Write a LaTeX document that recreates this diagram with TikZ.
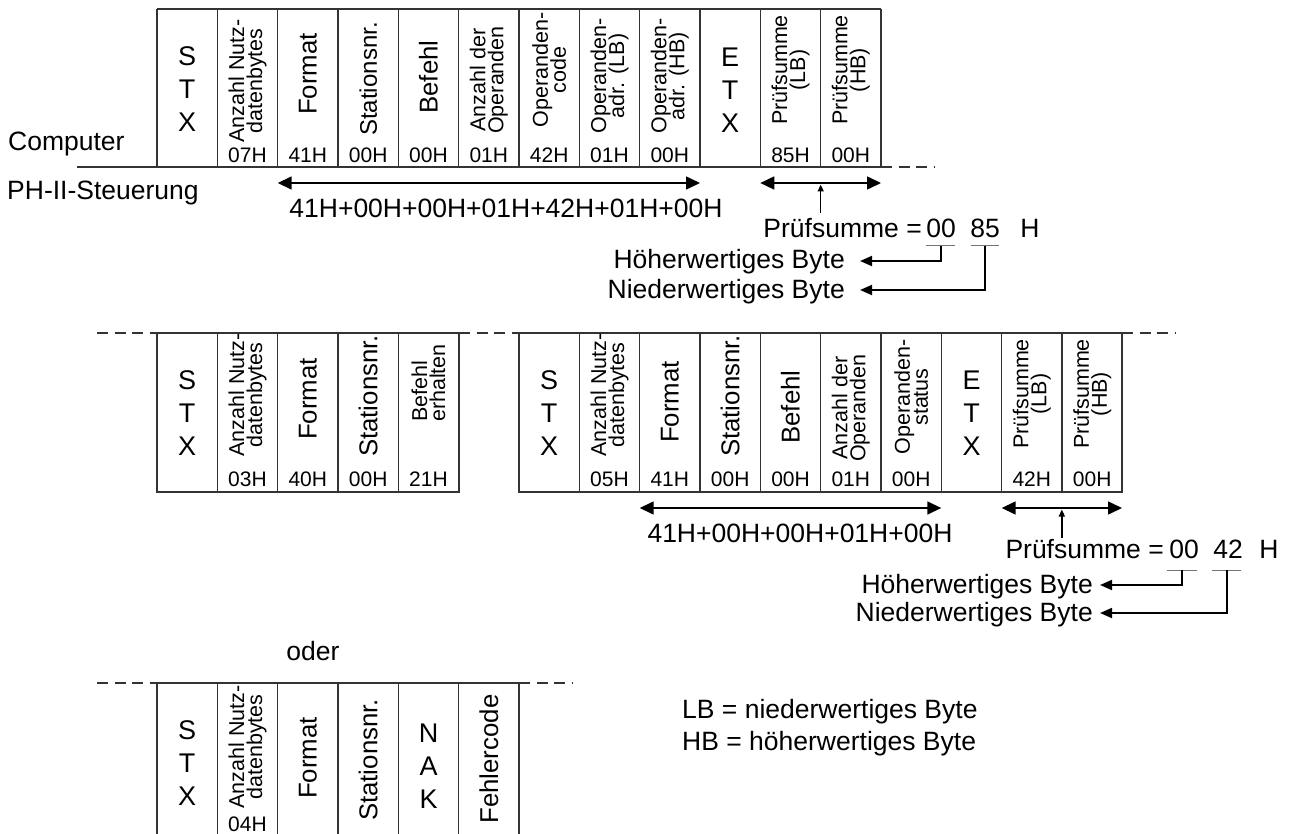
\documentclass[tikz,border=0pt]{standalone}
\usepackage{fontspec}
\setmainfont{Liberation Sans}
\usetikzlibrary{arrows.meta}
\lineskiplimit=-50pt
\begin{document}
\begin{tikzpicture}[x=1pt,y=-1pt,
  frm/.style={draw=black!80, line width=1.3pt},
  dsh/.style={draw=black!80, line width=1.3pt, dash pattern=on 11pt off 6.5pt},
  lbl/.style={inner sep=0pt, font=\fontsize{26.5}{30}\selectfont},
  rbig/.style={inner sep=0pt, rotate=90, font=\fontsize{25.8}{28}\selectfont},
  rsm/.style={inner sep=0pt, rotate=90, align=center, font=\fontsize{21.5}{18}\selectfont},
  val/.style={inner sep=0pt, font=\fontsize{21}{22}\selectfont},
  stk/.style={inner sep=0pt, align=center, font=\fontsize{27}{33}\selectfont},
  dbl/.style={line width=1.5pt, >={Triangle[length=14pt,width=13pt]}, <->},
  upa/.style={line width=1.5pt, -{Triangle[length=7pt,width=6pt]}},
  bya/.style={line width=1.8pt, -{Triangle[length=12pt,width=10pt]}},
  ul/.style={draw=black!55, line width=1pt}
]
\useasboundingbox (0,0) rectangle (1292,834);

% ---------------- frame 1 (Computer -> PH-II) ----------------
\draw[frm] (157,9) -- (881,9);
\draw[frm] (77,167) -- (881,167);
\foreach \i in {0,...,12} \draw[frm] ({157+\i*60.333},9) -- ({157+\i*60.333},167);
\draw[dsh] (881,167) -- (935,167);

\node[lbl, anchor=base west] (comp) at (8,151) {Computer};
\node[lbl, anchor=base west] (phii) at (7,200) {PH-II-Steuerung};

\node[stk] (t1c1) at (187.2,89) {S\\T\\X};
\node[rsm] (t1c2) at (247.5,81) {Anzahl Nutz-\\datenbytes};
\node[val] (t1v2) at (247.5,155) {07H};
\node[rbig] (t1c3) at (307.8,74) {Format};
\node[val] (t1v3) at (307.8,155) {41H};
\node[rbig, font=\fontsize{24}{28}\selectfont] (t1c4) at (368.2,79) {Stationsnr.};
\node[val] (t1v4) at (368.2,155) {00H};
\node[rbig] (t1c5) at (428.5,77) {Befehl};
\node[val] (t1v5) at (428.5,155) {00H};
\node[rsm] (t1c6) at (488.8,80) {Anzahl der\\Operanden};
\node[val] (t1v6) at (488.8,155) {01H};
\node[rsm] (t1c7) at (549.2,70) {Operanden-\\code};
\node[val] (t1v7) at (549.2,155) {42H};
\node[rsm] (t1c8) at (609.5,76) {Operanden-\\adr. (LB)};
\node[val] (t1v8) at (609.5,155) {01H};
\node[rsm] (t1c9) at (669.8,76) {Operanden-\\adr. (HB)};
\node[val] (t1v9) at (669.8,155) {00H};
\node[stk] (t1c10) at (730.2,90) {E\\T\\X};
\node[rsm] (t1c11) at (790.5,70) {Prüfsumme\\(LB)};
\node[val] (t1v11) at (790.5,155) {85H};
\node[rsm] (t1c12) at (850.8,70) {Prüfsumme\\(HB)};
\node[val] (t1v12) at (850.8,155) {00H};

\coordinate (a1l) at (277.7,183);
\coordinate (a1r) at (700,183);
\draw[dbl] (a1l) -- (a1r);
\node[lbl, anchor=base] (sum1) at (506,218) {41H+00H+00H+01H+42H+01H+00H};
\coordinate (b1l) at (760.3,183);
\coordinate (b1r) at (881,183);
\draw[dbl] (b1l) -- (b1r);
\coordinate (c1b) at (820.7,213);
\coordinate (c1t) at (820.7,184.5);
\draw[upa] (c1b) -- (c1t);

\node[lbl, anchor=base east] (ps1) at (922,237.5) {Prüfsumme =};
\node[lbl, anchor=base] (hi1) at (941,237.5) {00};
\node[lbl, anchor=base] (lo1) at (985,237.5) {85};
\node[lbl, anchor=base] (hh1) at (1030,237.5) {H};
\draw[ul] (926,246) -- (955,246);
\draw[ul] (971,246) -- (999,246);
\node[lbl, anchor=base east] (hw1) at (845,269) {Höherwertiges Byte};
\node[lbl, anchor=base east] (nw1) at (845,298) {Niederwertiges Byte};
\coordinate (u1a) at (941,246);
\coordinate (u1b) at (985,246);
\coordinate (e1a) at (860,261);
\coordinate (e1b) at (860,290);
\draw[bya] (u1a) |- (e1a);
\draw[bya] (u1b) |- (e1b);

% ---------------- frame 2a (PH-II -> Computer) ----------------
\draw[dsh] (97,333) -- (157,333);
\draw[frm] (157,333) rectangle (459,492);
\foreach \i in {1,...,4} \draw[frm] ({157+\i*60.333},333) -- ++(0,159);
\draw[dsh] (459,333) -- (519,333);

\node[stk] (m1c1) at (187.2,413) {S\\T\\X};
\node[rsm] (m1c2) at (247.5,395) {Anzahl Nutz-\\datenbytes};
\node[val] (m1v2) at (247.5,479) {03H};
\node[rbig] (m1c3) at (307.8,399) {Format};
\node[val] (m1v3) at (307.8,479) {40H};
\node[rbig] (m1c4) at (368.2,396) {Stationsnr.};
\node[val] (m1v4) at (368.2,479) {00H};
\node[rsm, align=left] (m1c5) at (428.5,383) {Befehl\\erhalten};
\node[val] (m1v5) at (428.5,479) {21H};

% ---------------- frame 2b ----------------
\draw[frm] (519,333) rectangle (1122,492);
\foreach \i in {1,...,9} \draw[frm] ({519+\i*60.333},333) -- ++(0,159);
\draw[dsh] (1122,333) -- (1176,333);

\node[stk] (m2c1) at (549.2,413) {S\\T\\X};
\node[rsm] (m2c2) at (609.5,395) {Anzahl Nutz-\\datenbytes};
\node[val] (m2v2) at (609.5,479) {05H};
\node[rbig] (m2c3) at (669.8,402) {Format};
\node[val] (m2v3) at (669.8,479) {41H};
\node[rbig] (m2c4) at (730.2,396) {Stationsnr.};
\node[val] (m2v4) at (730.2,479) {00H};
\node[rbig] (m2c5) at (790.5,407) {Befehl};
\node[val] (m2v5) at (790.5,479) {00H};
\node[rsm] (m2c6) at (850.8,408) {Anzahl der\\Operanden};
\node[val] (m2v6) at (850.8,479) {01H};
\node[rsm] (m2c7) at (911.2,397) {Operanden-\\status};
\node[val] (m2v7) at (911.2,479) {00H};
\node[stk] (m2c8) at (971.5,413) {E\\T\\X};
\node[rsm] (m2c9) at (1031.8,394) {Prüfsumme\\(LB)};
\node[val] (m2v9) at (1031.8,479) {42H};
\node[rsm] (m2c10) at (1092.2,394) {Prüfsumme\\(HB)};
\node[val] (m2v10) at (1092.2,479) {00H};

\coordinate (a2l) at (639.7,508);
\coordinate (a2r) at (941.3,508);
\draw[dbl] (a2l) -- (a2r);
\node[lbl, anchor=base] (sum2) at (800,542) {41H+00H+00H+01H+00H};
\coordinate (b2l) at (1001.7,508);
\coordinate (b2r) at (1122,508);
\draw[dbl] (b2l) -- (b2r);
\coordinate (c2b) at (1061.8,538);
\coordinate (c2t) at (1061.8,509.5);
\draw[upa] (c2b) -- (c2t);

\node[lbl, anchor=base east] (ps2) at (1164,558) {Prüfsumme =};
\node[lbl, anchor=base] (hi2) at (1184,558) {00};
\node[lbl, anchor=base] (lo2) at (1228,558) {42};
\node[lbl, anchor=base] (hh2) at (1269,558) {H};
\draw[ul] (1167,570) -- (1197,570);
\draw[ul] (1212,570) -- (1241,570);
\node[lbl, anchor=base east] (hw2) at (1093,593) {Höherwertiges Byte};
\node[lbl, anchor=base east] (nw2) at (1093,621) {Niederwertiges Byte};
\coordinate (u2a) at (1182,570);
\coordinate (u2b) at (1227,570);
\coordinate (e2a) at (1100,585);
\coordinate (e2b) at (1100,613);
\draw[bya] (u2a) |- (e2a);
\draw[bya] (u2b) |- (e2b);

% ---------------- oder / frame 3 ----------------
\node[lbl, anchor=base] (oder) at (313,660) {oder};

\draw[dsh] (97,683) -- (157,683);
\draw[frm] (157,683) -- (519,683);
\foreach \i in {0,...,6} \draw[frm] ({157+\i*60.333},683) -- ({157+\i*60.333},840);
\draw[dsh] (519,683) -- (573,683);

\node[stk] (b3c1) at (187.2,763) {S\\T\\X};
\node[rsm] (b3c2) at (247.5,747) {Anzahl Nutz-\\datenbytes};
\node[val] (b3v2) at (247.5,824) {04H};
\node[rbig] (b3c3) at (307.8,758) {Format};
\node[rbig] (b3c4) at (368.2,760) {Stationsnr.};
\node[stk] (b3c5) at (428.5,766) {N\\A\\K};
\node[rbig] (b3c6) at (488.8,759) {Fehlercode};

\node[lbl, anchor=base west] (leg1) at (682,718) {LB = niederwertiges Byte};
\node[lbl, anchor=base west] (leg2) at (682,750) {HB = höherwertiges Byte};
\end{tikzpicture}
\end{document}
